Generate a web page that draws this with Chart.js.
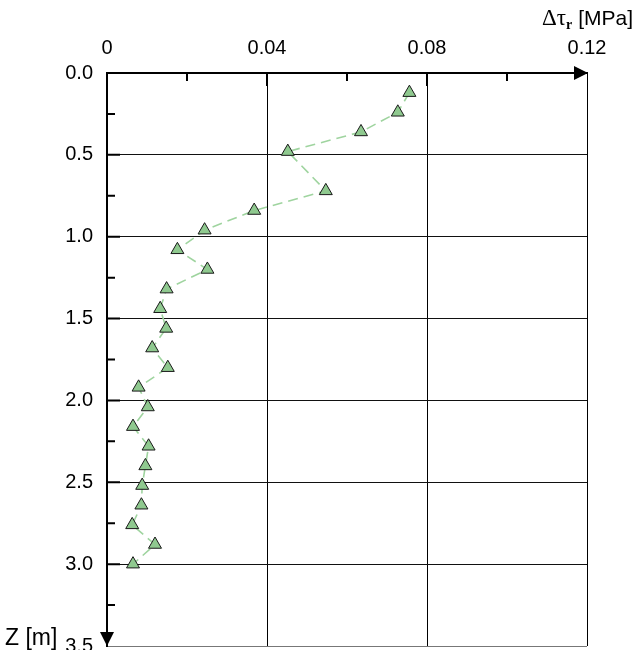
<!DOCTYPE html>
<html>
<head>
<meta charset="utf-8">
<script src="https://cdn.jsdelivr.net/npm/chart.js@4.4.1/dist/chart.umd.min.js"></script>
<style>
  html, body { margin: 0; padding: 0; background: #fff; }
  canvas { display: block; }
</style>
</head>
<body>
<canvas id="profileChart" width="635" height="650"></canvas>
<script>
// depth profile of stress change
const depthZ = [0.12, 0.24, 0.36, 0.48, 0.72, 0.84, 0.96, 1.08, 1.20, 1.32, 1.44, 1.56,
                1.68, 1.80, 1.92, 2.04, 2.16, 2.28, 2.40, 2.52, 2.64, 2.76, 2.88, 3.00];
const deltaTau = [0.0756, 0.0727, 0.0635, 0.0452, 0.0547, 0.0368, 0.0244, 0.0176, 0.0251, 0.0149, 0.0133, 0.0148,
                  0.0113, 0.0152, 0.0079, 0.0102, 0.0065, 0.0104, 0.0096, 0.0088, 0.0086, 0.0063, 0.0120, 0.0065];
const xTicks = [0, 0.04, 0.08, 0.12];
const xMinorTicks = [0.02, 0.06, 0.10];
const yTicks = [0.0, 0.5, 1.0, 1.5, 2.0, 2.5, 3.0, 3.5];
const yMinorTicks = [0.25, 0.75, 1.25, 1.75, 2.25, 2.75, 3.25];

const SANS = '"Liberation Sans", Arial, sans-serif';
const SERIF = '"Liberation Serif", "Times New Roman", serif';

const points = depthZ.map((z, i) => ({ x: deltaTau[i], y: z }));

// axis arrows, inner tick marks and the axis titles
const decorPlugin = {
  id: 'decor',
  afterDraw(chart) {
    const { ctx, chartArea: a, scales: { x, y } } = chart;
    ctx.save();
    ctx.strokeStyle = '#000';
    ctx.lineWidth = 2;
    ctx.beginPath();
    xMinorTicks.forEach(v => { const px = x.getPixelForValue(v); ctx.moveTo(px, a.top); ctx.lineTo(px, a.top + 8); });
    xTicks.slice(1, 3).forEach(v => { const px = x.getPixelForValue(v); ctx.moveTo(px, a.top); ctx.lineTo(px, a.top + 13); });
    yMinorTicks.forEach(v => { const py = y.getPixelForValue(v); ctx.moveTo(a.left, py); ctx.lineTo(a.left + 8, py); });
    yTicks.slice(1, -1).forEach(v => { const py = y.getPixelForValue(v); ctx.moveTo(a.left, py); ctx.lineTo(a.left + 13, py); });
    ctx.stroke();

    // arrow heads
    ctx.fillStyle = '#000';
    ctx.beginPath();
    ctx.moveTo(a.right + 1, a.top);
    ctx.lineTo(a.right - 13, a.top - 7);
    ctx.lineTo(a.right - 13, a.top + 7);
    ctx.closePath();
    ctx.fill();
    ctx.beginPath();
    ctx.moveTo(a.left, a.bottom);
    ctx.lineTo(a.left - 7, a.bottom - 14);
    ctx.lineTo(a.left + 7, a.bottom - 14);
    ctx.closePath();
    ctx.fill();

    // x title: Δτ_r [MPa]
    ctx.textBaseline = 'alphabetic';
    ctx.textAlign = 'left';
    const f1 = '23px ' + SERIF, f2 = 'bold 14px ' + SERIF, f3 = '21px ' + SANS;
    ctx.font = f1; const w1 = ctx.measureText('\u0394\u03c4').width;
    ctx.font = f2; const w2 = ctx.measureText('r').width;
    ctx.font = f3; const w3 = ctx.measureText(' [MPa]').width;
    let tx = 633 - (w1 + w2 + w3);
    const base = 25;
    ctx.font = f1; ctx.fillText('\u0394\u03c4', tx, base); tx += w1;
    ctx.font = f2; ctx.fillText('r', tx, base + 4); tx += w2;
    ctx.font = f3; ctx.fillText(' [MPa]', tx, base);

    // y title
    ctx.font = '23px ' + SANS;
    ctx.fillText('Z [m]', 5, 645);
    ctx.restore();
  }
};

new Chart(document.getElementById('profileChart'), {
  type: 'scatter',
  data: {
    datasets: [{
      data: points,
      showLine: true,
      borderColor: '#9fd49f',
      borderWidth: 1.6,
      borderDash: [10, 6],
      pointStyle: 'triangle',
      pointRadius: 7.5,
      pointHoverRadius: 7.5,
      pointBackgroundColor: '#8fc98f',
      pointBorderColor: '#1a1a1a',
      pointBorderWidth: 1
    }]
  },
  options: {
    responsive: false,
    animation: false,
    events: [],
    layout: { autoPadding: false, padding: { left: 0, top: 0, right: 48, bottom: 4 } },
    plugins: { legend: { display: false }, tooltip: { enabled: false } },
    scales: {
      x: {
        type: 'linear',
        position: 'top',
        min: 0,
        max: 0.12,
        afterBuildTicks: s => { s.ticks = xTicks.map(v => ({ value: v })); },
        afterFit: s => { s.height = 73; s.paddingLeft = 0; s.paddingRight = 0; },
        ticks: {
          color: '#000',
          font: { family: SANS, size: 20 },
          padding: 13,
          maxRotation: 0,
          callback: v => v === 0 ? '0' : v.toFixed(2)
        },
        grid: { color: '#000', lineWidth: 1, drawTicks: false },
        border: { color: '#000', width: 2 }
      },
      y: {
        type: 'linear',
        reverse: true,
        min: 0,
        max: 3.5,
        afterBuildTicks: s => { s.ticks = yTicks.map(v => ({ value: v })); },
        afterFit: s => { s.width = 107; s.paddingTop = 0; s.paddingBottom = 0; },
        ticks: {
          color: '#000',
          font: { family: SANS, size: 20 },
          padding: 14,
          callback: v => v.toFixed(1)
        },
        grid: {
          color: c => c.tick && c.tick.value === 3.5 ? '#777' : '#111',
          lineWidth: 1,
          drawTicks: false
        },
        border: { color: '#000', width: 2 }
      }
    }
  },
  plugins: [decorPlugin]
});
</script>
</body>
</html>
